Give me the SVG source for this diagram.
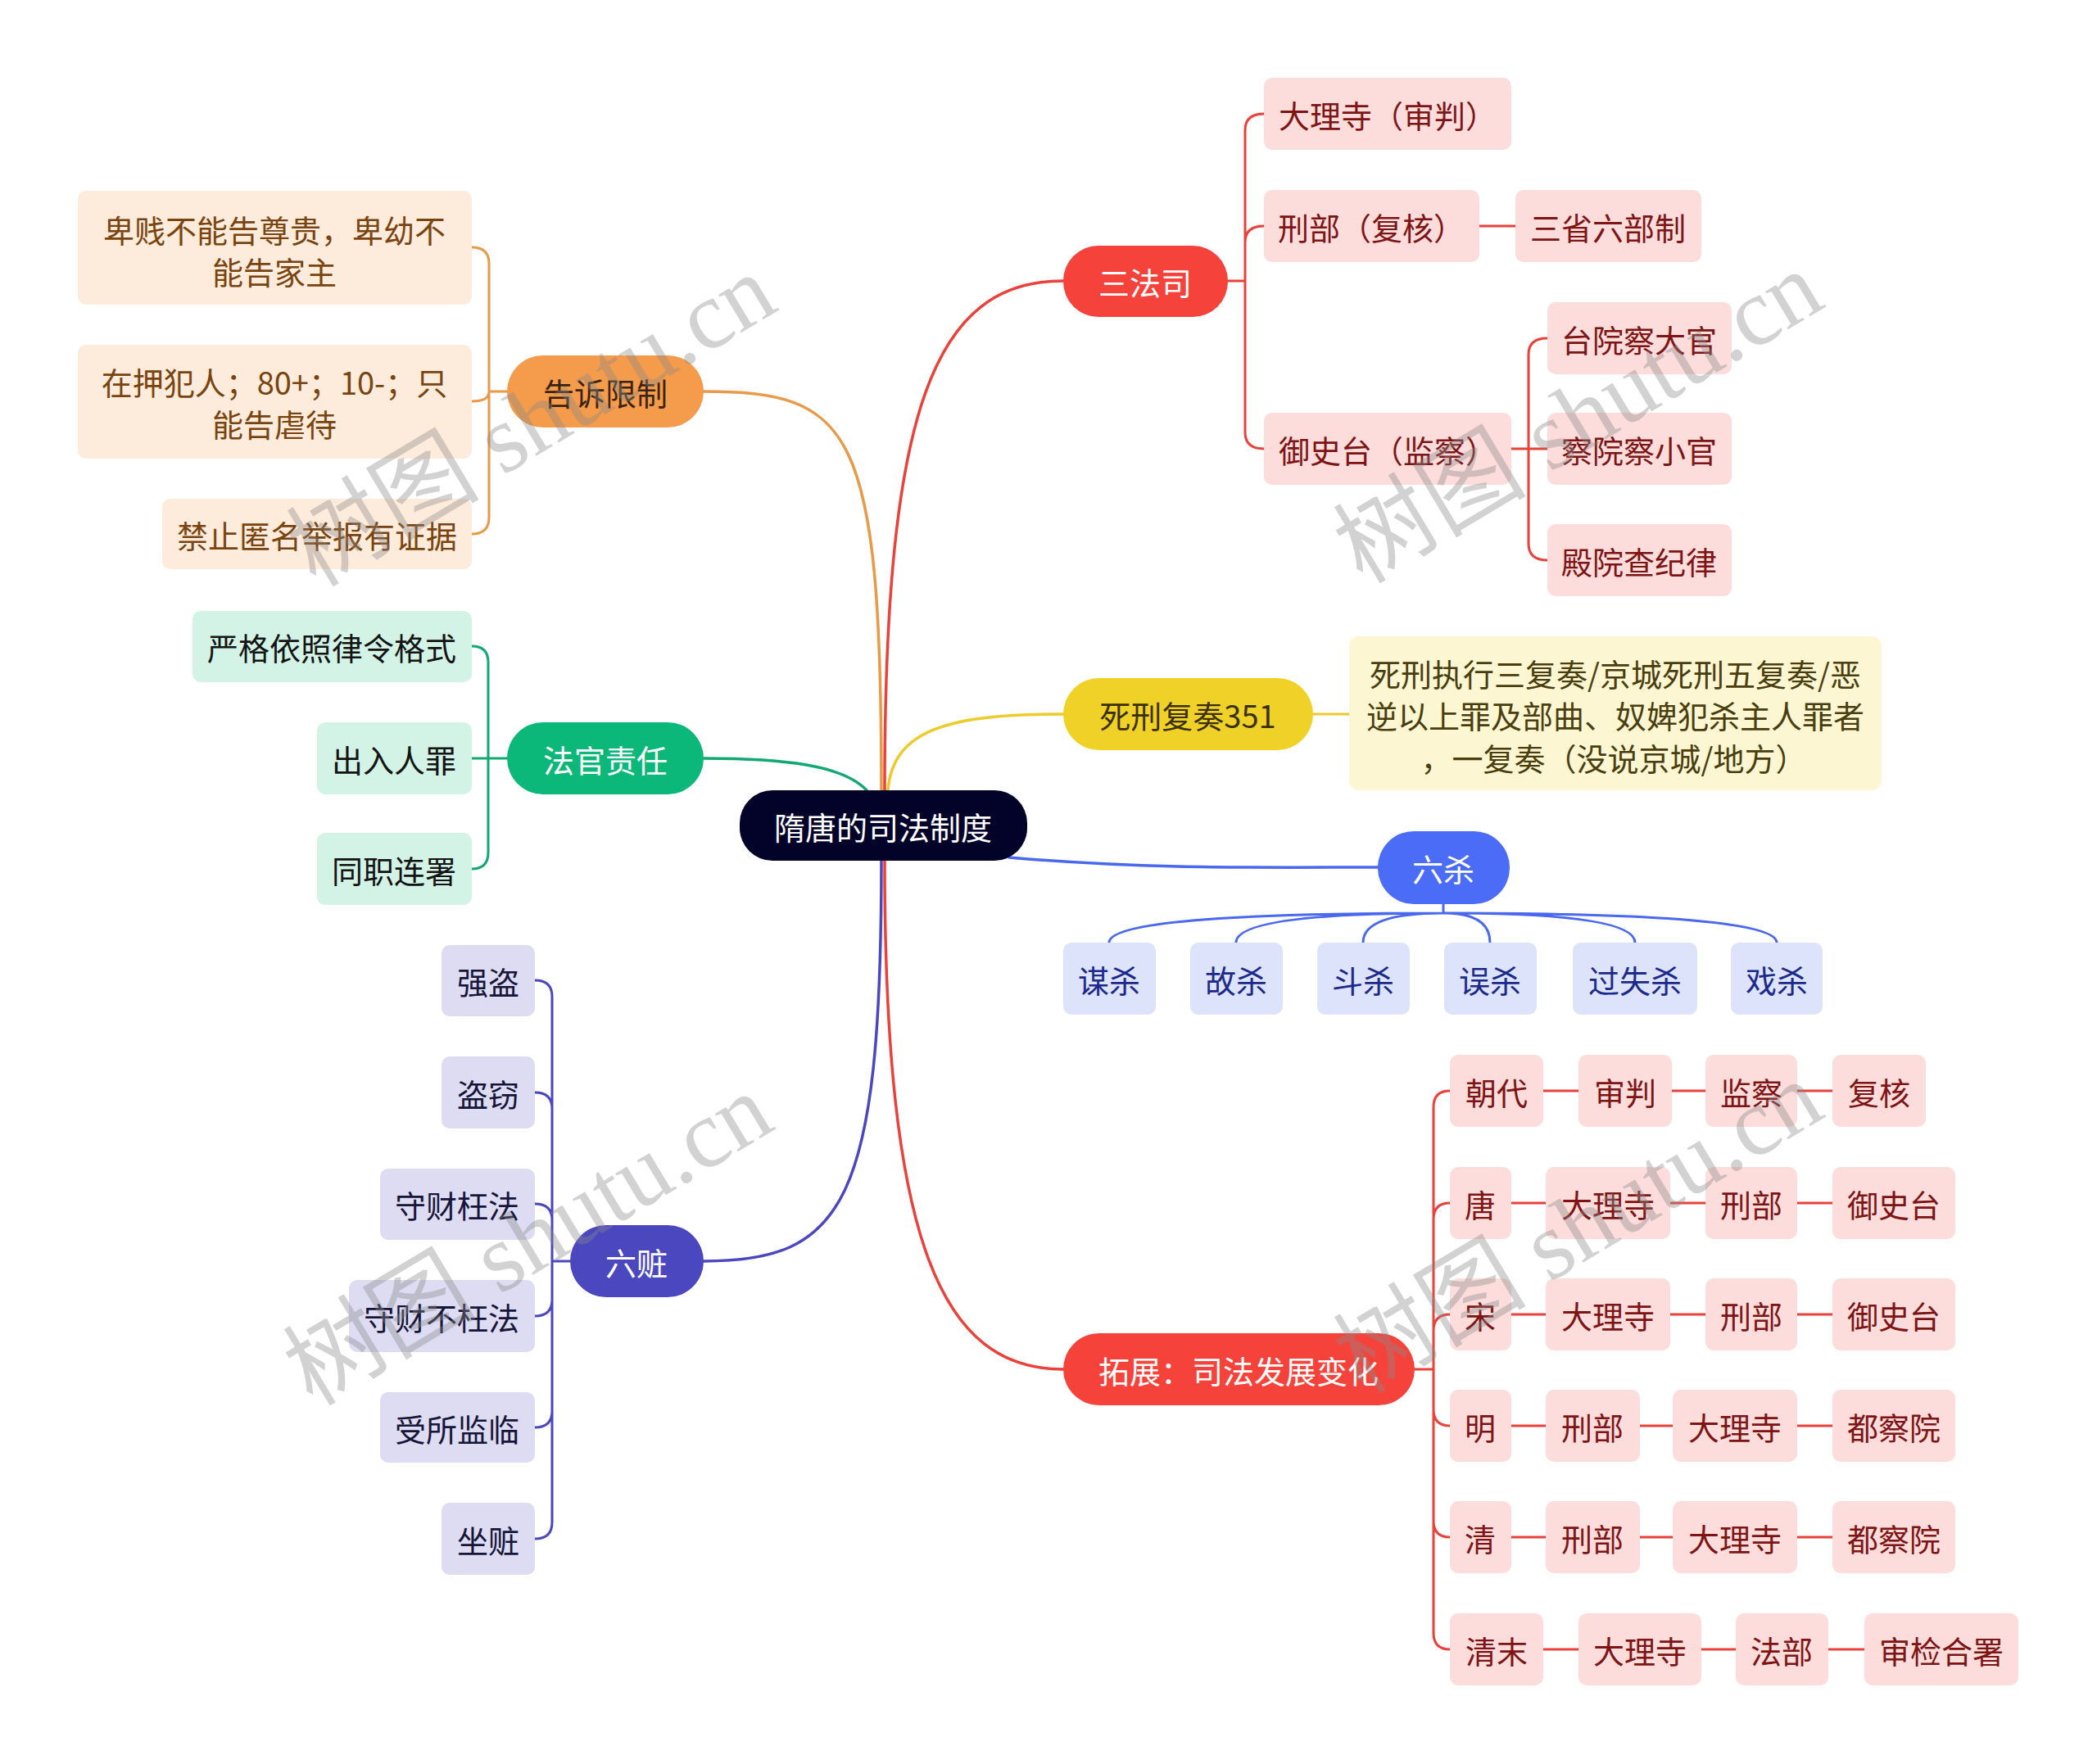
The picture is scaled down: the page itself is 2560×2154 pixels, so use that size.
<svg xmlns="http://www.w3.org/2000/svg" width="2560" height="2154" viewBox="0 0 2560 2154">
<style>
.t{font-family:"Noto Sans CJK SC","Noto Sans",sans-serif;font-size:38px;text-anchor:middle;dominant-baseline:central}
.w{fill:#ffffff}
.c{fill:none;stroke-width:3;stroke-linecap:round}
.m{fill:none;stroke-width:3.5;stroke-linecap:round}
.pk{fill:#FDDCDC}.pkt{fill:#7E1414}
.pe{fill:#FDEBDB}.pet{fill:#7A4410}
.mi{fill:#D2F3E5}.mit{fill:#141414}
.ye{fill:#FDF6D3}.yet{fill:#4A3E0E}
.lb{fill:#DCE3FA}.lbt{fill:#1C2A8C}
.lv{fill:#DDDCF2}.lvt{fill:#16163A}
.wm{font-family:"Liberation Serif","Noto Sans CJK SC",serif;font-size:118px;fill:#8a8a8a;fill-opacity:0.38;text-anchor:middle;dominant-baseline:central}
</style>
<rect width="2560" height="2154" fill="#ffffff"/>
<g id="connectors">
  <path class="m" stroke="#E8423A" d="M1080 965 C1080 500 1140 343 1298 343"/>
  <path class="m" stroke="#E89A48" d="M1076 965 C1076 520 1040 478 859 478"/>
  <path class="m" stroke="#12A872" d="M1058 965 C1030 935 960 926 859 926"/>
  <path class="m" stroke="#EDCB2A" d="M1084 965 C1090 890 1160 872 1298 872"/>
  <path class="m" stroke="#4A68EE" d="M1232 1047 C1400 1062 1550 1059 1682 1059"/>
  <path class="m" stroke="#4B47BE" d="M1076 1051 C1076 1470 1030 1540 859 1540"/>
  <path class="m" stroke="#E8423A" d="M1080 1051 C1080 1520 1150 1672 1298 1672"/>

  <path class="c" stroke="#E8423A" d="M1499 343 H1520 V159 Q1520 139 1543 139 M1520 343 V296 Q1520 276 1543 276 M1520 343 V528 Q1520 548 1543 548 M1806 276 H1850"/>
  <path class="c" stroke="#E8423A" d="M1845 548 H1866 V433 Q1866 413 1889 413 M1866 548 H1889 M1866 548 V664 Q1866 684 1889 684"/>

  <path class="c" stroke="#E89A48" d="M619 478 H597 V322 Q597 302 576 302 M597 478 Q597 490 576 490 M597 478 V632 Q597 652 576 652"/>
  <path class="c" stroke="#12A872" d="M619 926 H596 V809 Q596 789 576 789 M596 926 H576 M596 926 V1041 Q596 1061 576 1061"/>
  <path class="c" stroke="#EDCB2A" d="M1603 872 H1647"/>

  <path class="c" stroke="#4A68EE" d="M1762 1104 V1115 M1762 1115 Q1354 1115 1354 1151 M1762 1115 Q1509 1115 1509 1151 M1762 1115 Q1664 1115 1664 1151 M1762 1115 Q1819 1115 1819 1151 M1762 1115 Q1996 1115 1996 1151 M1762 1115 Q2169 1115 2169 1151"/>

  <path class="c" stroke="#4B47BE" d="M696 1540 H674 V1217 Q674 1197 653 1197 M674 1540 V1354 Q674 1334 653 1334 M674 1540 V1490 Q674 1470 653 1470 M674 1540 V1587 Q674 1607 653 1607 M674 1540 V1723 Q674 1743 653 1743 M674 1540 V1859 Q674 1879 653 1879"/>

  <path class="c" stroke="#E8423A" d="M1727 1672 H1750 V1352 Q1750 1332 1770 1332 M1750 1672 V1489 Q1750 1469 1770 1469 M1750 1672 V1625 Q1750 1605 1770 1605 M1750 1672 V1721 Q1750 1741 1770 1741 M1750 1672 V1857 Q1750 1877 1770 1877 M1750 1672 V1994 Q1750 2014 1770 2014"/>
  <path class="c" stroke="#E8423A" d="M1884 1332 H1927 M2041 1332 H2082 M2194 1332 H2237 M1845 1469 H1887 M2039 1469 H2082 M2194 1469 H2237 M1845 1605 H1887 M2039 1605 H2082 M2194 1605 H2237 M1845 1741 H1887 M2002 1741 H2042 M2194 1741 H2237 M1845 1877 H1887 M2002 1877 H2042 M2194 1877 H2237 M1884 2014 H1927 M2077 2014 H2119 M2232 2014 H2276"/>
</g>

<g id="root"><rect x="903" y="965" width="351" height="86" rx="40" fill="#03032A"/><text class="t w" x="1078" y="1008">隋唐的司法制度</text></g>

<g id="n-sanfasi"><rect x="1298" y="300" width="201" height="87" rx="43" fill="#F5433B"/><text class="t w" x="1398" y="343">三法司</text></g>
<g id="n-gaosu"><rect x="619" y="434" width="240" height="88" rx="44" fill="#F59B4C"/><text class="t" x="739" y="478" fill="#3A2410">告诉限制</text></g>
<g id="n-faguan"><rect x="619" y="882" width="240" height="88" rx="44" fill="#0CB879"/><text class="t w" x="739" y="926">法官责任</text></g>
<g id="n-sixing"><rect x="1298" y="828" width="305" height="88" rx="44" fill="#F0D128"/><text class="t" x="1450" y="872" fill="#3A3000">死刑复奏351</text></g>
<g id="n-liusha"><rect x="1682" y="1015" width="161" height="89" rx="44" fill="#4A6CF7"/><text class="t w" x="1762" y="1059">六杀</text></g>
<g id="n-liuzang"><rect x="696" y="1496" width="163" height="88" rx="44" fill="#4B47BE"/><text class="t w" x="777" y="1540">六赃</text></g>
<g id="n-tuozhan"><rect x="1298" y="1628" width="429" height="88" rx="44" fill="#F5433B"/><text class="t w" x="1512" y="1672">拓展：司法发展变化</text></g>

<g id="s-dalisi"><rect class="pk" x="1543" y="95" width="302" height="88" rx="10"/><text class="t pkt" x="1694" y="139">大理寺（审判）</text></g>
<g id="s-xingbu"><rect class="pk" x="1543" y="232" width="263" height="88" rx="10"/><text class="t pkt" x="1674" y="276">刑部（复核）</text></g>
<g id="s-sansheng"><rect class="pk" x="1850" y="232" width="227" height="88" rx="10"/><text class="t pkt" x="1963" y="276">三省六部制</text></g>
<g id="s-yushitai"><rect class="pk" x="1543" y="504" width="302" height="88" rx="10"/><text class="t pkt" x="1694" y="548">御史台（监察）</text></g>
<g id="s-taiyuan"><rect class="pk" x="1889" y="369" width="225" height="88" rx="10"/><text class="t pkt" x="2001" y="413">台院察大官</text></g>
<g id="s-chayuan"><rect class="pk" x="1889" y="504" width="225" height="88" rx="10"/><text class="t pkt" x="2001" y="548">察院察小官</text></g>
<g id="s-dianyuan"><rect class="pk" x="1889" y="640" width="225" height="88" rx="10"/><text class="t pkt" x="2001" y="684">殿院查纪律</text></g>

<g id="s-g1"><rect class="pe" x="95" y="233" width="481" height="139" rx="10"/><text class="t pet" x="335" y="279">卑贱不能告尊贵，卑幼不</text><text class="t pet" x="335" y="330">能告家主</text></g>
<g id="s-g2"><rect class="pe" x="95" y="421" width="481" height="139" rx="10"/><text class="t pet" x="335" y="465">在押犯人；80+；10-；只</text><text class="t pet" x="335" y="516">能告虐待</text></g>
<g id="s-g3"><rect class="pe" x="198" y="609" width="378" height="86" rx="10"/><text class="t pet" x="387" y="652">禁止匿名举报有证据</text></g>

<g id="s-f1"><rect class="mi" x="235" y="746" width="341" height="87" rx="10"/><text class="t mit" x="405" y="789">严格依照律令格式</text></g>
<g id="s-f2"><rect class="mi" x="387" y="882" width="189" height="88" rx="10"/><text class="t mit" x="481" y="926">出入人罪</text></g>
<g id="s-f3"><rect class="mi" x="387" y="1017" width="189" height="88" rx="10"/><text class="t mit" x="481" y="1061">同职连署</text></g>

<g id="s-sx"><rect class="ye" x="1647" y="777" width="650" height="188" rx="12"/><text class="t yet" x="1972" y="821">死刑执行三复奏/京城死刑五复奏/恶</text><text class="t yet" x="1972" y="872">逆以上罪及部曲、奴婢犯杀主人罪者</text><text class="t yet" x="1970" y="924">，一复奏（没说京城/地方）</text></g>

<g id="s-ls1"><rect class="lb" x="1298" y="1151" width="113" height="88" rx="10"/><text class="t lbt" x="1354" y="1195">谋杀</text></g>
<g id="s-ls2"><rect class="lb" x="1453" y="1151" width="113" height="88" rx="10"/><text class="t lbt" x="1509" y="1195">故杀</text></g>
<g id="s-ls3"><rect class="lb" x="1608" y="1151" width="113" height="88" rx="10"/><text class="t lbt" x="1664" y="1195">斗杀</text></g>
<g id="s-ls4"><rect class="lb" x="1763" y="1151" width="113" height="88" rx="10"/><text class="t lbt" x="1819" y="1195">误杀</text></g>
<g id="s-ls5"><rect class="lb" x="1920" y="1151" width="152" height="88" rx="10"/><text class="t lbt" x="1996" y="1195">过失杀</text></g>
<g id="s-ls6"><rect class="lb" x="2113" y="1151" width="112" height="88" rx="10"/><text class="t lbt" x="2169" y="1195">戏杀</text></g>

<g id="s-lz1"><rect class="lv" x="539" y="1154" width="114" height="87" rx="10"/><text class="t lvt" x="596" y="1197">强盗</text></g>
<g id="s-lz2"><rect class="lv" x="539" y="1290" width="114" height="88" rx="10"/><text class="t lvt" x="596" y="1334">盗窃</text></g>
<g id="s-lz3"><rect class="lv" x="464" y="1427" width="189" height="87" rx="10"/><text class="t lvt" x="558" y="1470">守财枉法</text></g>
<g id="s-lz4"><rect class="lv" x="426" y="1563" width="227" height="88" rx="10"/><text class="t lvt" x="539" y="1607">守财不枉法</text></g>
<g id="s-lz5"><rect class="lv" x="464" y="1700" width="189" height="86" rx="10"/><text class="t lvt" x="558" y="1743">受所监临</text></g>
<g id="s-lz6"><rect class="lv" x="539" y="1835" width="114" height="88" rx="10"/><text class="t lvt" x="596" y="1879">坐赃</text></g>

<g id="r1a"><rect class="pk" x="1770" y="1288" width="114" height="88" rx="10"/><text class="t pkt" x="1827" y="1332">朝代</text></g>
<g id="r1b"><rect class="pk" x="1927" y="1288" width="114" height="88" rx="10"/><text class="t pkt" x="1984" y="1332">审判</text></g>
<g id="r1c"><rect class="pk" x="2082" y="1288" width="112" height="88" rx="10"/><text class="t pkt" x="2138" y="1332">监察</text></g>
<g id="r1d"><rect class="pk" x="2237" y="1288" width="114" height="88" rx="10"/><text class="t pkt" x="2294" y="1332">复核</text></g>

<g id="r2a"><rect class="pk" x="1770" y="1425" width="75" height="88" rx="10"/><text class="t pkt" x="1807" y="1469">唐</text></g>
<g id="r2b"><rect class="pk" x="1887" y="1425" width="152" height="88" rx="10"/><text class="t pkt" x="1963" y="1469">大理寺</text></g>
<g id="r2c"><rect class="pk" x="2082" y="1425" width="112" height="88" rx="10"/><text class="t pkt" x="2138" y="1469">刑部</text></g>
<g id="r2d"><rect class="pk" x="2237" y="1425" width="150" height="88" rx="10"/><text class="t pkt" x="2312" y="1469">御史台</text></g>

<g id="r3a"><rect class="pk" x="1770" y="1561" width="75" height="88" rx="10"/><text class="t pkt" x="1807" y="1605">宋</text></g>
<g id="r3b"><rect class="pk" x="1887" y="1561" width="152" height="88" rx="10"/><text class="t pkt" x="1963" y="1605">大理寺</text></g>
<g id="r3c"><rect class="pk" x="2082" y="1561" width="112" height="88" rx="10"/><text class="t pkt" x="2138" y="1605">刑部</text></g>
<g id="r3d"><rect class="pk" x="2237" y="1561" width="150" height="88" rx="10"/><text class="t pkt" x="2312" y="1605">御史台</text></g>

<g id="r4a"><rect class="pk" x="1770" y="1697" width="75" height="88" rx="10"/><text class="t pkt" x="1807" y="1741">明</text></g>
<g id="r4b"><rect class="pk" x="1887" y="1697" width="115" height="88" rx="10"/><text class="t pkt" x="1944" y="1741">刑部</text></g>
<g id="r4c"><rect class="pk" x="2042" y="1697" width="152" height="88" rx="10"/><text class="t pkt" x="2118" y="1741">大理寺</text></g>
<g id="r4d"><rect class="pk" x="2237" y="1697" width="150" height="88" rx="10"/><text class="t pkt" x="2312" y="1741">都察院</text></g>

<g id="r5a"><rect class="pk" x="1770" y="1833" width="75" height="88" rx="10"/><text class="t pkt" x="1807" y="1877">清</text></g>
<g id="r5b"><rect class="pk" x="1887" y="1833" width="115" height="88" rx="10"/><text class="t pkt" x="1944" y="1877">刑部</text></g>
<g id="r5c"><rect class="pk" x="2042" y="1833" width="152" height="88" rx="10"/><text class="t pkt" x="2118" y="1877">大理寺</text></g>
<g id="r5d"><rect class="pk" x="2237" y="1833" width="150" height="88" rx="10"/><text class="t pkt" x="2312" y="1877">都察院</text></g>

<g id="r6a"><rect class="pk" x="1770" y="1970" width="114" height="88" rx="10"/><text class="t pkt" x="1827" y="2014">清末</text></g>
<g id="r6b"><rect class="pk" x="1927" y="1970" width="150" height="88" rx="10"/><text class="t pkt" x="2002" y="2014">大理寺</text></g>
<g id="r6c"><rect class="pk" x="2119" y="1970" width="113" height="88" rx="10"/><text class="t pkt" x="2175" y="2014">法部</text></g>
<g id="r6d"><rect class="pk" x="2276" y="1970" width="188" height="88" rx="10"/><text class="t pkt" x="2370" y="2014">审检合署</text></g>

<g id="watermarks">
  <text class="wm" transform="translate(649 514) rotate(-31)">树图 shutu.cn</text>
  <text class="wm" transform="translate(1927 510) rotate(-31)">树图 shutu.cn</text>
  <text class="wm" transform="translate(645 1514) rotate(-31)">树图 shutu.cn</text>
  <text class="wm" transform="translate(1927 1499) rotate(-31)">树图 shutu.cn</text>
</g>
</svg>
